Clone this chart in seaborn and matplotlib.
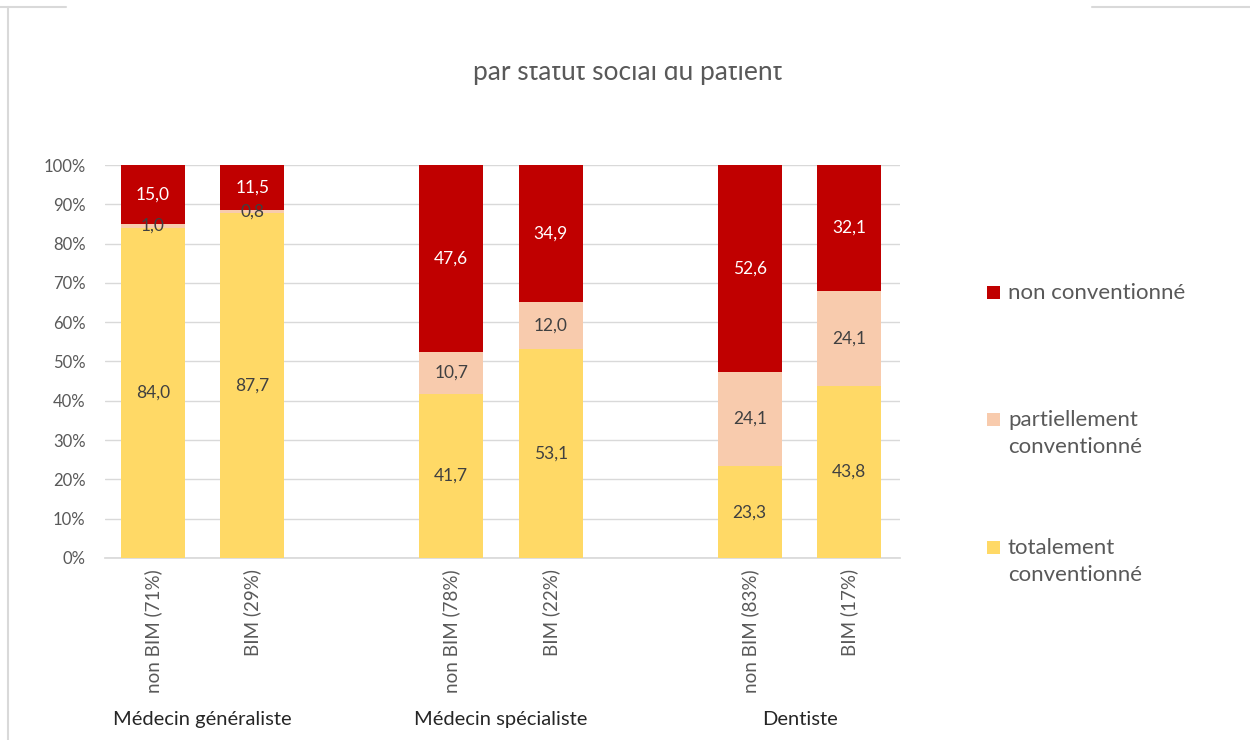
import matplotlib
matplotlib.use("Agg")
import matplotlib.pyplot as plt
from matplotlib.patches import Rectangle
from matplotlib.lines import Line2D
import seaborn as sns
import pandas as pd

# data
groups = ["Médecin généraliste", "Médecin spécialiste", "Dentiste"]
bar_labels = ["non BIM (71%)", "BIM (29%)",
              "non BIM (78%)", "BIM (22%)",
              "non BIM (83%)", "BIM (17%)"]
totalement = [84.0, 87.7, 41.7, 53.1, 23.3, 43.8]
partiellement = [1.0, 0.8, 10.7, 12.0, 24.1, 24.1]
non_conv = [15.0, 11.5, 47.6, 34.9, 52.6, 32.1]
series_names = ["non conventionné", "partiellement\nconventionné", "totalement\nconventionné"]

RED = "#C00000"
PEACH = "#F8CBAD"
YELLOW = "#FFD966"
GREY = "#595959"

sns.set_theme(style="white")
plt.rcParams["font.family"] = ["Lato", "DejaVu Sans"]

# slot position: 2 bars per group, one empty slot between groups
pos = [g * 3 + s for g in range(3) for s in range(2)]
df = pd.DataFrame({
    "pos": pos,
    "label": bar_labels,
    "tot": totalement,
    "part": partiellement,
    "non": non_conv,
})
df["cum_part"] = df["tot"] + df["part"]
df["cum_non"] = df["cum_part"] + df["non"]

fig = plt.figure(figsize=(12.5, 7.4), dpi=100)
ax = fig.add_axes([0.084, 0.246, 0.636, 0.531])

# stacked: draw the cumulative tops first, then overlay
for col, color in [("cum_non", RED), ("cum_part", PEACH), ("tot", YELLOW)]:
    sns.barplot(data=df, x="pos", y=col, native_scale=True, color=color,
                width=0.64, saturation=1, edgecolor="none", ax=ax, zorder=3)

# value labels
def fmt(v):
    return f"{v:.1f}".replace(".", ",")

for i, row in df.iterrows():
    x = row["pos"]
    ax.text(x, row["tot"] / 2, fmt(row["tot"]),
            ha="center", va="center", fontsize=12.5, color="#404040", zorder=5)
    ax.text(x, row["tot"] + row["part"] / 2, fmt(row["part"]),
            ha="center", va="center", fontsize=12.5, color="#404040", zorder=5)
    ax.text(x, row["cum_part"] + row["non"] / 2, fmt(row["non"]),
            ha="center", va="center", fontsize=12.5, color="white", zorder=5)

ax.set_xlim(-0.48, 7.51)
ax.set_ylim(0, 100)
ax.set_yticks(range(0, 101, 10))
ax.set_yticklabels([f"{v}%" for v in range(0, 101, 10)], color=GREY, fontsize=12)
ax.yaxis.grid(True, color="#D9D9D9", linewidth=1, zorder=0)
ax.set_axisbelow(True)
ax.set_xticks(pos)
ax.set_xticklabels(bar_labels, rotation=90, color=GREY, fontsize=13.5, va="top")
ax.tick_params(axis="x", length=0, pad=8)
ax.tick_params(axis="y", length=0, pad=14)
ax.set_xlabel("")
ax.set_ylabel("")
for side in ["top", "right", "left"]:
    ax.spines[side].set_visible(False)
ax.spines["bottom"].set_color("#D9D9D9")

# group labels under the ticks
for g, name in enumerate(groups):
    ax.text(g * 3 + 0.5, -0.412, name, transform=ax.get_xaxis_transform(),
            ha="center", va="center", fontsize=14.5, color="#262626")

# legend (manual, squares aligned with first text line)
leg_y = [293, 420, 548]
for name, color, y in zip(series_names, [RED, PEACH, YELLOW], leg_y):
    fig.add_artist(Rectangle((987 / 1250, 1 - (y + 6) / 740), 13 / 1250, 13 / 740,
                             transform=fig.transFigure, color=color, lw=0))
    fig.text(1008 / 1250, 1 - (y - 10) / 740, name, ha="left", va="top",
             fontsize=16, color=GREY, linespacing=1.45)

# title, its upper part hidden as in the original
fig.text(0.5025, 1 - 80 / 740, "par statut social du patient", ha="center",
         va="baseline", fontsize=19, color=GREY)
fig.add_artist(Rectangle((300 / 1250, 1 - 66 / 740), 650 / 1250, 50 / 740,
                         transform=fig.transFigure, color="white", lw=0, zorder=10))

# frame fragments
fig.add_artist(Line2D([0, 66 / 1250], [1 - 7 / 740] * 2, transform=fig.transFigure,
                      color="#D9D9D9", lw=1.5))
fig.add_artist(Line2D([1092 / 1250, 1], [1 - 7 / 740] * 2, transform=fig.transFigure,
                      color="#D9D9D9", lw=1.5))
fig.add_artist(Line2D([8 / 1250] * 2, [0, 1 - 7 / 740], transform=fig.transFigure,
                      color="#D9D9D9", lw=1.5))

fig.savefig("out.png", dpi=100)
